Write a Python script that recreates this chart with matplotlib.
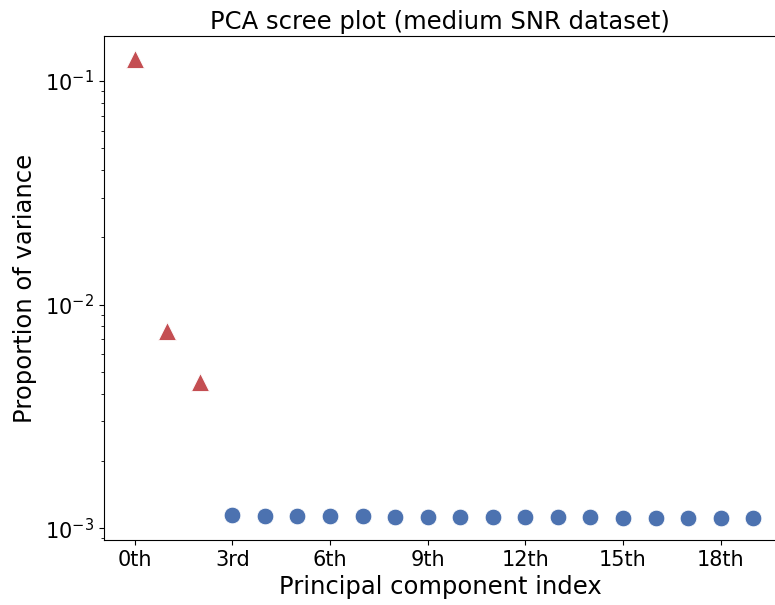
import matplotlib
matplotlib.use("Agg")
import matplotlib.pyplot as plt
import numpy as np

# proportion of variance per principal component
signal_idx = [0, 1, 2]
signal_var = [0.1256, 0.0076, 0.0045]
noise_idx = list(range(3, 20))
noise_var = [0.001142, 0.001133, 0.001132, 0.001131, 0.00113, 0.001125, 0.001122,
             0.001121, 0.00112, 0.001119, 0.001118, 0.001117, 0.001112, 0.00111,
             0.001109, 0.001108, 0.001107]
tick_pos = [0, 3, 6, 9, 12, 15, 18]
tick_labels = ["0th", "3rd", "6th", "9th", "12th", "15th", "18th"]

red = "#C44E52"
blue = "#4C72B0"

fig = plt.figure(figsize=(7.75, 6.05), dpi=100)
ax = fig.add_axes([104 / 775, 1 - 540 / 605, 672 / 775, 504 / 605])

ax.plot(signal_idx, signal_var, linestyle="none", marker="^", markersize=13.5,
        color=red, markeredgecolor="white", markeredgewidth=0.6)
ax.plot(noise_idx, noise_var, linestyle="none", marker="o", markersize=12,
        color=blue, markeredgecolor="white", markeredgewidth=0.6)

ax.set_yscale("log")
ax.set_ylim(0.000885, 0.159)
ax.set_xlim(-0.94, 19.7)
ax.set_xticks(tick_pos)
ax.set_xticklabels(tick_labels)
ax.tick_params(axis="both", labelsize=15)
ax.spines["right"].set_visible(False)

ax.set_xlabel("Principal component index", fontsize=17.5, labelpad=4)
ax.set_ylabel("Proportion of variance", fontsize=17.5, labelpad=6)
ax.set_title("PCA scree plot (medium SNR dataset)", fontsize=17.5, pad=5)

fig.savefig("out.png", dpi=100)
